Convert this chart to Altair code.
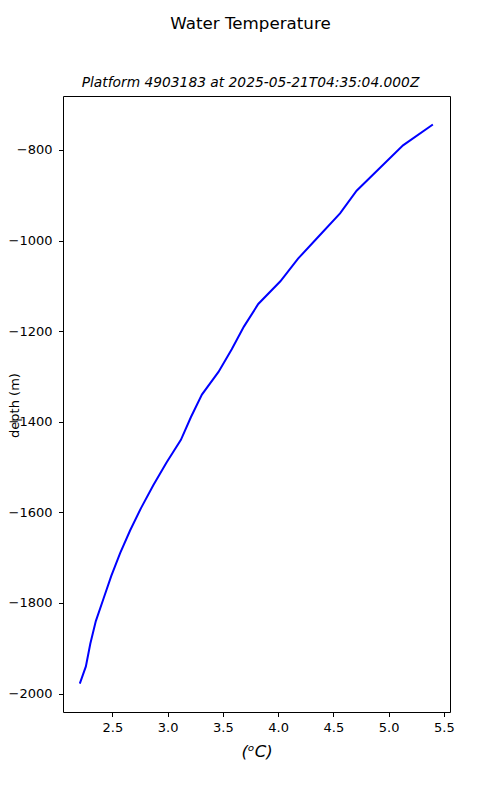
import altair as alt
import pandas as pd

# Profile values
depth = [-744, -790, -840, -890, -940, -990, -1040, -1090, -1140, -1190, -1240,
         -1290, -1340, -1390, -1440, -1490, -1540, -1590, -1640, -1690, -1740,
         -1790, -1840, -1890, -1940, -1978]
temp = [5.40, 5.13, 4.92, 4.71, 4.56, 4.37, 4.18, 4.02, 3.82, 3.69, 3.58,
        3.46, 3.31, 3.21, 3.12, 2.99, 2.87, 2.76, 2.66, 2.57, 2.49,
        2.42, 2.35, 2.30, 2.26, 2.205]
x_ticks = [2.5, 3.0, 3.5, 4.0, 4.5, 5.0, 5.5]
y_ticks = [-2000, -1800, -1600, -1400, -1200, -1000, -800]

df = pd.DataFrame({"temp": temp, "depth": depth, "idx": list(range(len(temp)))})

FONT = "DejaVu Sans"

chart = alt.Chart(df).mark_line(color="#0000ff", strokeWidth=2).encode(
    x=alt.X("temp:Q",
            scale=alt.Scale(domain=[2.053, 5.555], nice=False, zero=False),
            axis=alt.Axis(values=x_ticks, format=".1f", title="(ᵒC)",
                          titleFontSize=16.5, titleFontStyle="italic",
                          titleFontWeight="normal", titlePadding=9)),
    y=alt.Y("depth:Q",
            scale=alt.Scale(domain=[-2040.6, -681], nice=False, zero=False),
            axis=alt.Axis(values=y_ticks, format="d", title="depth (m)",
                          titleFontSize=13, titleFontWeight="normal",
                          titleX=-42, titleY=309, labelPadding=6.5)),
    order=alt.Order("idx:Q"),
).properties(
    width=387,
    height=616,
    title=alt.TitleParams(
        text="Water Temperature",
        subtitle="Platform 4903183 at 2025-05-21T04:35:04.000Z",
        anchor="middle",
        frame="group",
        dx=-6,
        font=FONT,
        fontSize=16.7,
        fontWeight="normal",
        color="black",
        subtitleFont=FONT,
        subtitleFontSize=13.8,
        subtitleFontStyle="italic",
        subtitleColor="black",
        subtitlePadding=44,
        offset=6,
    ),
    autosize=alt.AutoSizeParams(type="none"),
    padding={"left": 55, "top": 88, "right": 42, "bottom": 80},
).configure_view(
    stroke="black", strokeWidth=1
).configure_axis(
    grid=False,
    domain=False,
    ticks=True,
    tickColor="black",
    tickSize=4.5,
    labelFont=FONT,
    labelFontSize=13,
    labelColor="black",
    labelPadding=5,
    titleFont=FONT,
    titleColor="black",
)

chart.save("out.html", embed_options={"renderer": "svg", "actions": False})
